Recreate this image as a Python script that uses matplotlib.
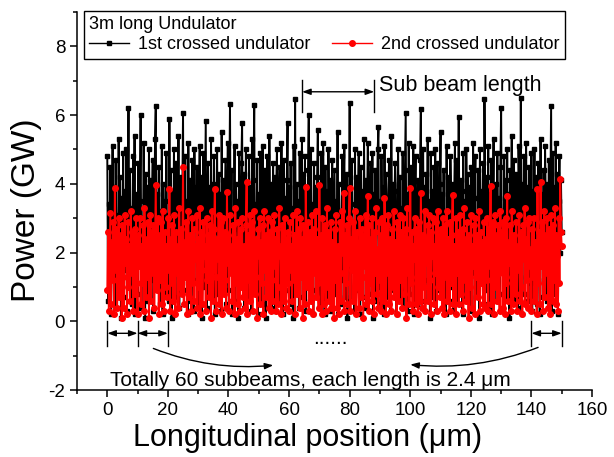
import matplotlib
matplotlib.use('Agg')
import matplotlib.pyplot as plt
from matplotlib.lines import Line2D
from matplotlib.ticker import MultipleLocator
import numpy as np

plt.rcParams['font.family'] = ['Liberation Sans', 'DejaVu Sans']
plt.rcParams['axes.unicode_minus'] = False

# power along the bunch, every 0.25 um (GW)
black = [
    4.8, 0.6, 3.4, 1.9, 4.5, 0.2, 2.7, 5.1, 1.3, 3.9, 0.4, 4.7, 2.2, 3.1, 0.9, 5.3, 1.6, 4.2, 0.1, 3.6,
    2.4, 4.9, 0.7, 3.8, 1.5, 5.0, 0.3, 2.9, 6.2, 1.1, 4.4, 2.0, 3.3, 0.5, 4.8, 1.8, 5.4, 0.2, 3.7, 2.6,
    0.8, 4.6, 2.3, 3.5, 6.0, 0.4, 3.0, 1.4, 5.2, 2.5, 0.1, 4.3, 1.7, 3.9, 0.6, 5.0, 2.8, 4.1, 1.2, 3.4,
    4.7, 0.3, 2.1, 5.3, 6.27, 1.0, 3.7, 2.4, 4.5, 0.5, 3.2, 1.9, 5.1, 0.2, 4.0, 2.7, 3.5, 0.8, 4.9, 1.5,
    3.1, 0.6, 5.9, 2.2, 4.4, 0.1, 3.8, 1.3, 5.0, 2.6, 0.7, 4.6, 3.3, 1.6, 5.4, 0.4, 2.9, 4.2, 1.1, 3.6,
    6.05, 0.9, 2.5, 4.8, 1.4, 3.5, 0.2, 5.2, 2.0, 4.1, 0.6, 3.0, 4.7, 1.8, 0.3, 5.0, 2.7, 3.9, 1.2, 4.5,
    0.5, 3.3, 5.1, 1.7, 4.2, 0.1, 2.8, 4.9, 1.0, 3.6, 5.83, 0.4, 2.3, 4.6, 1.5, 3.9, 0.7, 5.3, 2.1, 4.0,
    1.3, 4.8, 0.2, 3.4, 2.6, 5.0, 0.8, 4.3, 1.9, 3.7, 0.3, 5.5, 2.4, 4.1, 1.1, 3.0, 4.7, 0.5, 2.9, 5.2,
    0.9, 3.8, 6.33, 1.6, 4.4, 0.2, 3.2, 2.0, 5.1, 0.6, 4.0, 2.7, 3.5, 0.1, 4.9, 1.4, 3.1, 4.6, 5.77, 1.2,
    4.3, 0.4, 2.5, 5.0, 1.8, 3.6, 0.7, 4.8, 2.2, 3.9, 0.3, 5.3, 1.5, 4.1, 6.3, 0.9, 3.4, 2.6, 4.7, 0.2,
    3.7, 1.1, 4.9, 2.3, 0.5, 5.1, 3.0, 1.7, 4.4, 0.1, 3.5, 4.8, 2.0, 0.8, 5.4, 2.8, 4.0, 0.4, 3.2, 4.6,
    1.6, 4.2, 0.3, 3.8, 5.0, 1.2, 2.9, 4.5, 0.6, 3.4, 5.2, 1.9, 0.2, 4.7, 2.5, 3.6, 0.9, 4.1, 5.77, 1.4,
    3.9, 0.5, 4.6, 2.1, 3.3, 0.1, 5.1, 1.7, 6.47, 0.8, 4.0, 2.6, 3.5, 0.4, 4.9, 1.3, 3.0, 5.3, 0.7, 4.3,
    2.2, 4.8, 0.3, 3.7, 1.5, 4.4, 6.0, 0.6, 2.8, 5.0, 1.9, 3.4, 0.2, 4.6, 2.4, 3.9, 0.9, 4.2, 5.57, 1.2,
    3.6, 0.4, 4.9, 2.3, 1.0, 5.2, 3.1, 0.2, 4.5, 1.8, 3.8, 0.6, 5.0, 2.6, 4.1, 0.3, 3.3, 4.7, 1.4, 2.9,
    4.4, 0.8, 3.5, 1.6, 5.5, 0.2, 4.0, 2.5, 3.2, 0.5, 4.8, 1.2, 3.7, 5.1, 0.7, 2.8, 4.3, 0.1, 3.9, 1.9,
    6.36, 0.6, 3.4, 4.7, 1.5, 2.7, 0.3, 5.0, 2.0, 4.2, 0.9, 3.6, 4.9, 1.1, 0.2, 4.5, 2.4, 3.8, 0.7, 5.3,
    1.7, 4.1, 0.4, 3.3, 5.2, 2.2, 0.8, 4.6, 3.0, 1.3, 4.9, 0.1, 3.7, 2.6, 4.4, 0.6, 3.1, 5.0, 5.66, 1.0,
    3.5, 0.5, 4.8, 2.1, 3.9, 0.2, 5.1, 1.6, 4.3, 2.9, 0.7, 3.6, 4.7, 1.2, 0.3, 5.4, 2.5, 4.0, 0.9, 3.2,
    4.6, 1.4, 0.2, 3.8, 5.0, 2.3, 4.2, 0.6, 3.3, 1.9, 4.9, 0.4, 2.8, 4.4, 6.07, 1.1, 3.7, 0.3, 5.2, 2.0,
    0.8, 4.5, 3.0, 1.5, 5.1, 0.2, 3.6, 4.8, 2.2, 0.5, 4.1, 3.4, 1.0, 4.7, 6.18, 0.4, 2.7, 5.0, 1.8, 3.9,
    0.6, 4.3, 2.4, 5.3, 1.2, 3.5, 0.1, 4.9, 2.0, 3.8, 0.7, 4.5, 1.6, 5.0, 0.3, 3.2, 4.6, 2.6, 0.9, 4.0,
    5.5, 1.3, 3.7, 0.4, 4.4, 2.1, 3.0, 0.2, 5.1, 1.7, 4.2, 2.8, 0.6, 4.8, 3.4, 1.0, 4.0, 0.3, 3.6, 5.2,
    1.5, 4.7, 0.5, 3.3, 5.96, 2.4, 0.8, 4.1, 3.8, 0.2, 4.9, 1.9, 3.5, 0.6, 5.0, 2.7, 4.3, 1.1, 3.9, 0.4,
    4.5, 2.2, 0.3, 5.2, 1.4, 3.6, 4.8, 0.7, 3.1, 2.0, 4.4, 0.1, 5.0, 2.6, 3.8, 1.2, 4.6, 0.5, 6.47, 3.3,
    0.9, 4.2, 2.5, 5.1, 0.4, 3.7, 1.8, 4.7, 0.2, 3.4, 5.3, 1.3, 2.9, 4.0, 0.6, 4.9, 2.1, 3.6, 0.8, 4.5,
    6.2, 1.6, 3.2, 0.3, 4.8, 2.4, 4.1, 0.7, 5.0, 1.9, 3.7, 0.1, 4.4, 2.8, 5.4, 1.0, 3.5, 4.7, 0.5, 3.0,
    4.3, 2.0, 0.4, 5.1, 3.6, 1.3, 6.5, 0.2, 4.0, 2.7, 4.8, 0.8, 3.3, 5.2, 1.7, 3.9, 0.6, 4.5, 2.3, 1.1,
    4.9, 0.3, 3.8, 2.5, 5.0, 1.4, 4.2, 0.5, 3.1, 4.6, 1.9, 0.2, 5.3, 2.9, 3.7, 0.7, 4.4, 1.2, 5.1, 3.4,
    0.6, 4.0, 2.2, 4.7, 1.0, 3.6, 6.27, 0.3, 4.9, 2.6, 3.9, 0.8, 5.2, 1.5, 4.3, 0.2, 3.5, 4.8, 2.0, 4.1,
    2.6,
]
red = [
    0.9, 2.6, 0.3, 1.8, 3.15, 0.5, 2.3, 1.2, 2.9, 0.2, 3.88, 1.5, 2.7, 0.4, 2.1, 3.0, 0.7, 1.9, 2.5, 0.1,
    2.8, 1.3, 0.4, 3.1, 1.7, 2.4, 0.2, 2.9, 1.0, 2.2, 0.6, 3.2, 1.4, 2.6, 0.3, 1.9, 2.7, 0.8, 3.0, 1.1,
    0.2, 2.5, 1.6, 3.0, 0.5, 2.2, 1.1, 2.8, 0.3, 3.3, 1.8, 0.7, 2.4, 1.3, 2.9, 0.1, 2.0, 3.1, 0.6, 2.6,
    1.4, 2.8, 0.4, 2.3, 3.96, 0.9, 1.7, 3.0, 0.2, 2.5, 1.2, 2.9, 0.5, 3.2, 1.9, 0.3, 2.6, 1.0, 2.2, 0.7,
    3.0, 1.5, 3.85, 0.3, 2.4, 1.1, 2.8, 0.6, 3.1, 1.8, 0.2, 2.6, 1.4, 2.2, 0.4, 3.3, 1.0, 2.7, 0.8, 1.9,
    4.49, 0.5, 2.3, 1.3, 2.9, 0.2, 2.0, 3.2, 0.7, 2.5, 1.6, 0.3, 3.0, 1.1, 2.7, 0.6, 2.2, 1.8, 3.1, 0.4,
    2.4, 1.0, 3.3, 0.2, 2.6, 1.5, 0.5, 2.9, 1.9, 2.2, 0.3, 3.0, 1.2, 2.5, 0.7, 2.8, 1.6, 0.1, 3.2, 2.0,
    0.6, 2.7, 3.85, 1.3, 0.3, 2.4, 1.8, 3.1, 0.5, 2.1, 2.9, 0.2, 1.5, 3.0, 0.8, 2.6, 1.2, 0.4, 3.76, 1.7,
    2.5, 0.3, 3.1, 1.4, 2.2, 0.6, 2.8, 1.9, 0.2, 3.3, 1.1, 2.4, 0.5, 2.9, 1.6, 0.3, 2.7, 1.0, 3.0, 0.7,
    2.2, 1.4, 0.4, 2.8, 4.05, 0.2, 2.5, 1.2, 3.1, 0.6, 2.0, 2.9, 0.3, 1.7, 3.2, 0.8, 2.4, 1.3, 0.1, 2.7,
    1.9, 3.0, 0.5, 2.3, 1.1, 2.8, 0.2, 3.2, 1.5, 2.5, 0.7, 2.1, 3.0, 0.4, 1.8, 2.6, 0.3, 2.9, 1.2, 0.6,
    3.1, 1.6, 2.4, 0.3, 2.7, 1.0, 0.5, 3.3, 1.9, 2.2, 0.2, 2.8, 1.4, 0.6, 3.0, 2.3, 0.4, 1.7, 2.6, 1.1,
    0.3, 2.9, 1.5, 2.2, 0.6, 3.1, 1.2, 2.5, 0.2, 2.0, 3.2, 0.8, 1.6, 2.7, 0.4, 3.0, 1.3, 2.4, 0.1, 2.8,
    1.7, 0.5, 3.9, 2.3, 1.0, 2.9, 0.3, 2.6, 1.8, 0.6, 3.1, 2.1, 0.2, 2.7, 1.4, 3.2, 0.7, 2.4, 1.1, 0.4,
    3.96, 1.3, 2.5, 0.2, 3.0, 1.7, 0.5, 2.8, 2.2, 0.3, 3.3, 1.0, 2.6, 0.6, 1.9, 2.9, 0.4, 2.3, 1.5, 0.1,
    2.7, 1.2, 3.1, 0.4, 2.2, 1.8, 0.2, 2.9, 1.4, 0.6, 3.2, 2.0, 3.73, 0.3, 2.5, 1.1, 2.8, 0.5, 1.7, 3.0,
    3.88, 0.3, 2.4, 1.5, 2.9, 0.6, 2.1, 3.2, 0.2, 1.8, 2.6, 1.0, 0.4, 3.0, 2.3, 0.7, 2.7, 1.3, 0.1, 2.5,
    1.6, 3.1, 0.5, 2.2, 3.64, 0.3, 2.8, 1.1, 2.4, 0.6, 3.0, 1.9, 0.2, 2.6, 1.4, 3.3, 0.8, 2.1, 0.4, 2.9,
    1.2, 2.5, 0.3, 3.0, 1.7, 0.6, 3.6, 2.2, 0.2, 2.8, 1.4, 3.1, 0.5, 2.4, 1.9, 0.3, 2.7, 1.0, 3.2, 0.7,
    2.3, 1.5, 0.2, 2.9, 2.0, 0.6, 3.1, 1.2, 2.6, 0.4, 2.2, 3.0, 0.8, 1.7, 2.7, 0.1, 3.3, 1.4, 2.4, 0.5,
    3.88, 1.1, 2.6, 0.3, 2.2, 1.8, 3.0, 0.5, 2.7, 1.3, 0.2, 2.9, 1.6, 0.6, 3.73, 2.1, 0.4, 2.5, 1.0, 3.2,
    0.3, 2.4, 1.7, 2.8, 0.6, 3.1, 1.2, 0.2, 2.6, 1.9, 3.0, 0.5, 2.2, 1.4, 2.9, 0.3, 3.2, 1.0, 2.5, 0.7,
    2.7, 1.5, 0.4, 3.0, 2.1, 0.2, 2.8, 1.3, 3.2, 0.6, 2.4, 1.8, 0.3, 2.9, 1.1, 2.5, 3.67, 0.5, 2.2, 1.6,
    0.2, 3.0, 1.4, 2.6, 0.5, 2.3, 3.1, 0.8, 1.9, 2.7, 0.3, 3.3, 1.2, 2.4, 0.6, 2.9, 1.7, 0.1, 2.5, 1.0,
    3.1, 0.4, 2.2, 1.6, 2.8, 0.2, 3.0, 1.3, 2.5, 0.7, 1.9, 3.2, 0.3, 2.6, 1.1, 2.3, 0.5, 2.9, 1.8, 0.4,
    2.4, 1.2, 3.0, 0.3, 2.7, 1.6, 3.94, 0.5, 2.1, 2.9, 0.2, 1.8, 3.1, 1.0, 2.5, 0.6, 2.8, 1.4, 0.3, 3.2,
    1.5, 2.6, 0.4, 2.9, 1.9, 0.2, 3.0, 1.1, 3.64, 0.6, 2.3, 1.7, 2.8, 0.3, 3.2, 1.3, 0.5, 2.5, 2.0, 0.8,
    2.9, 0.3, 2.2, 1.5, 3.1, 0.6, 2.6, 1.0, 0.2, 2.8, 1.8, 3.3, 0.5, 2.4, 1.2, 2.9, 0.4, 3.0, 1.6, 2.1,
    0.3, 2.7, 1.3, 3.0, 0.6, 2.3, 1.9, 0.2, 3.85, 1.1, 2.6, 0.5, 4.05, 1.6, 2.9, 0.3, 2.2, 3.2, 0.7, 2.5,
    1.4, 3.0, 0.4, 2.7, 1.8, 0.2, 3.1, 2.3, 0.6, 2.8, 1.2, 3.3, 0.5, 2.5, 1.9, 0.3, 3.0, 1.1, 4.14, 2.6,
    2.2,
]
x_black = np.linspace(0, 150, len(black))
x_red = np.linspace(0, 150, len(red))

fig = plt.figure(figsize=(6.14, 4.57), dpi=100)
ax = fig.add_axes([0.1254, 0.1466, 0.8388, 0.827])

ax.plot(x_black, black, '-s', color='black', lw=1.4, ms=3)
ax.plot(x_red, red, '-o', color='red', lw=1.4, ms=4)

ax.set_xlim(-10, 160)
ax.set_ylim(-2, 9)
ax.xaxis.set_major_locator(MultipleLocator(20))
ax.xaxis.set_minor_locator(MultipleLocator(10))
ax.yaxis.set_major_locator(MultipleLocator(2))
ax.yaxis.set_minor_locator(MultipleLocator(1))
ax.spines['top'].set_visible(False)
ax.spines['right'].set_visible(False)
for s in ['left', 'bottom']:
    ax.spines[s].set_linewidth(1.1)
ax.tick_params(which='major', direction='out', length=5, width=1.1, labelsize=13.5)
ax.tick_params(which='minor', direction='out', length=3, width=1.1)
ax.set_xlabel('Longitudinal position (\u03bcm)', fontsize=22)
ax.xaxis.set_label_coords(0.447, -0.087)
ax.set_ylabel('Power (GW)', fontsize=24)
ax.yaxis.set_label_coords(-0.067, 0.475)

# legend
h1 = Line2D([], [], color='black', lw=1, marker='s', ms=3.5)
h2 = Line2D([], [], color='red', lw=1, marker='o', ms=4)
leg = fig.legend([h1, h2], ['1st crossed undulator', '2nd crossed undulator'],
                 title='3m long Undulator', ncol=2, loc='upper left',
                 bbox_to_anchor=(84 / 614, 1 - 11 / 457), borderaxespad=0,
                 fontsize=13, title_fontsize=13, alignment='left',
                 fancybox=False, edgecolor='black', framealpha=1,
                 handlelength=2.2, handletextpad=0.5, columnspacing=1.2,
                 borderpad=0.3, labelspacing=0.15)
leg.get_frame().set_linewidth(1)

arrow2 = dict(arrowstyle='<|-|>,head_length=0.5,head_width=0.18', color='black',
              lw=1, shrinkA=0, shrinkB=0)
arrow1 = dict(arrowstyle='-|>,head_length=0.5,head_width=0.18', color='black',
              lw=1, shrinkA=0, shrinkB=0)

# sub beam length marker
for xv in [64.3, 88.1]:
    ax.plot([xv, xv], [6.09, 7.03], color='black', lw=1)
ax.annotate('', xy=(64.3, 6.68), xytext=(88.1, 6.68), arrowprops=arrow2)
ax.text(89.8, 6.85, 'Sub beam length', fontsize=15.5, ha='left', va='center')

# sub beams along the bottom
for xv in [0, 10, 20, 140, 150]:
    ax.plot([xv, xv], [0.0, -0.73], color='black', lw=1)
for a, b in [(0, 10), (10, 20), (140, 150)]:
    ax.annotate('', xy=(a, -0.35), xytext=(b, -0.35), arrowprops=arrow2)
ax.text(73.6, -0.5, '......', fontsize=15, ha='center', va='center')
ax.annotate('', xy=(54.8, -1.28), xytext=(15.2, -0.79),
            arrowprops=dict(arrow1, connectionstyle='arc3,rad=0.12'))
ax.annotate('', xy=(100, -1.26), xytext=(142.2, -0.76),
            arrowprops=dict(arrow1, connectionstyle='arc3,rad=-0.12'))
ax.text(67, -1.72, 'Totally 60 subbeams, each length is 2.4 \u03bcm', fontsize=15,
        ha='center', va='center')

fig.savefig('out.png', dpi=100)
